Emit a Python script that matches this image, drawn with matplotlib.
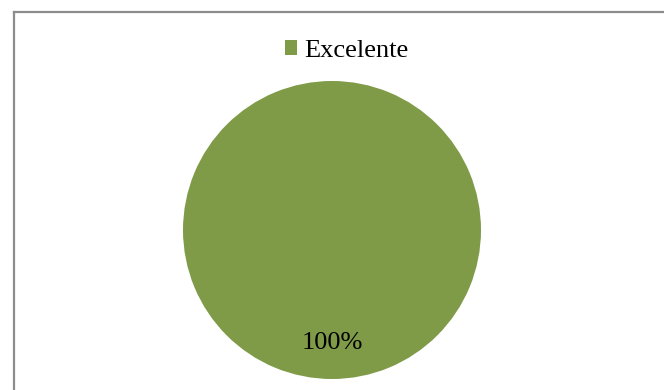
import matplotlib.pyplot as plt
from matplotlib.lines import Line2D
from matplotlib.patches import Patch

plt.rcParams['font.family'] = ['Liberation Serif', 'DejaVu Serif']

# Data
categories = ['Excelente']
values = [100]
colors = ['#7F9B48']

fig = plt.figure(figsize=(6.64, 3.9), dpi=100)
W, H = 664, 390

# Chart border (top and left edges visible)
fig.add_artist(Line2D([14 / W, 1], [1 - 12 / H, 1 - 12 / H], color='#8c8c8c', lw=1.6))
fig.add_artist(Line2D([14 / W, 14 / W], [0, 1 - 12 / H], color='#8c8c8c', lw=1.6))

# Pie area
cx, cy, r = 332, 230, 149
ax = fig.add_axes([(cx - r) / W, (H - cy - r) / H, 2 * r / W, 2 * r / H])
ax.pie(values, colors=colors, startangle=90, radius=1,
       autopct='%1.0f%%', pctdistance=0.76,
       textprops={'fontsize': 19, 'color': 'black'})
ax.set_xlim(-1, 1)
ax.set_ylim(-1, 1)
ax.set_aspect('equal')
ax.axis('off')

# Legend
handles = [Patch(facecolor=c, edgecolor='none') for c in colors]
fig.legend(handles, categories, loc='center', bbox_to_anchor=(347 / W, 1 - 51 / H),
           frameon=False, fontsize=19, handlelength=0.46, handleheight=0.46,
           handletextpad=0.27, borderpad=0)

fig.savefig('out.png', dpi=100)
